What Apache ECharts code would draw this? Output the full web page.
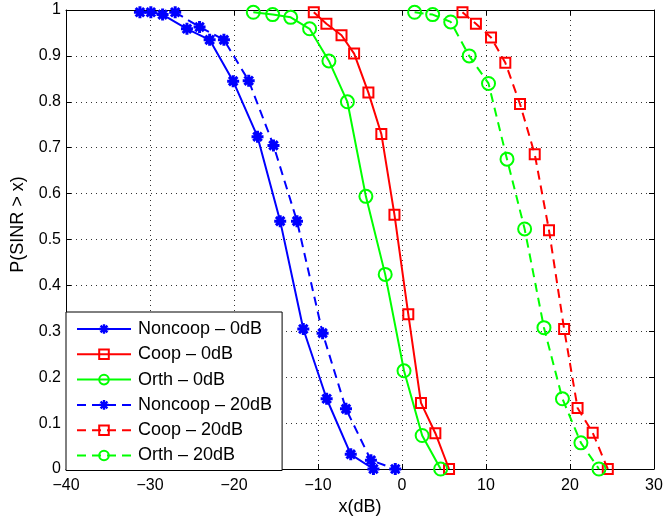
<!DOCTYPE html>
<html>
<head>
<meta charset="utf-8">
<script src="https://cdn.jsdelivr.net/npm/echarts@6/dist/echarts.min.js"></script>
<style>html,body{margin:0;padding:0;background:#fff;}#chart{width:666px;height:521px;}</style>
</head>
<body>
<div id="chart"></div>
<script>
// ---- data ----
var seriesNames = ['Noncoop \u2013 0dB', 'Coop \u2013 0dB', 'Orth \u2013 0dB', 'Noncoop \u2013 20dB', 'Coop \u2013 20dB', 'Orth \u2013 20dB'];

var noncoop0X = [-31.2, -29.9, -28.5, -25.6, -22.9, -20.1, -17.2, -14.5, -11.75, -8.97, -6.1, -3.4];
var noncoop0Y = [0.995, 0.995, 0.990, 0.959, 0.935, 0.845, 0.724, 0.540, 0.305, 0.153, 0.032, 0.0];

var coop0X = [-10.5, -9.0, -7.2, -5.7, -4.0, -2.46, -0.9, 0.75, 2.26, 3.97, 5.6];
var coop0Y = [0.995, 0.970, 0.945, 0.905, 0.820, 0.730, 0.554, 0.337, 0.144, 0.078, 0.0];

var orth0X = [-17.7, -15.4, -13.25, -11.0, -8.7, -6.5, -4.3, -2.0, 0.24, 2.4, 4.6];
var orth0Y = [0.995, 0.990, 0.984, 0.959, 0.889, 0.800, 0.594, 0.424, 0.214, 0.073, 0.0];

var noncoop20X = [-27.0, -24.1, -21.2, -18.25, -15.3, -12.5, -9.45, -6.67, -3.7, -0.8];
var noncoop20Y = [0.995, 0.963, 0.935, 0.846, 0.705, 0.540, 0.296, 0.131, 0.019, 0.0];

var coop20X = [7.2, 8.8, 10.6, 12.3, 14.05, 15.8, 17.5, 19.3, 20.9, 22.7, 24.5];
var coop20Y = [0.995, 0.970, 0.940, 0.885, 0.795, 0.686, 0.520, 0.305, 0.133, 0.079, 0.0];

var orth20X = [1.5, 3.65, 5.8, 8.0, 10.3, 12.5, 14.6, 16.9, 19.1, 21.3, 23.45];
var orth20Y = [0.995, 0.990, 0.974, 0.900, 0.840, 0.675, 0.523, 0.308, 0.153, 0.057, 0.0];

var xTicks = [-40, -30, -20, -10, 0, 10, 20, 30];
var yTicks = [0, 0.1, 0.2, 0.3, 0.4, 0.5, 0.6, 0.7, 0.8, 0.9, 1];

// ---- styling ----
var FONT = "'Liberation Sans', Arial, Helvetica, sans-serif";
var STAR = 'path://M20,12.5L20,7.5L0,7.5L0,12.5Z M7.5,20L12.5,20L12.5,0L7.5,0Z M15.303,18.839L18.839,15.303L4.697,1.161L1.161,4.697Z M1.161,15.303L4.697,18.839L18.839,4.697L15.303,1.161Z';

function pairs(xs, ys) { return xs.map(function (x, i) { return [x, ys[i]]; }); }

function mk(name, xs, ys, color, symbol, size, dashed, hollow) {
  return {
    name: name,
    type: 'line',
    data: pairs(xs, ys),
    clip: false,
    symbol: symbol,
    symbolSize: size,
    showAllSymbol: true,
    color: color,
    lineStyle: { color: color, width: 2, type: dashed ? [9, 6] : 'solid' },
    itemStyle: hollow ? { color: 'rgba(255,255,255,0)', borderColor: color, borderWidth: 2 } : { color: color, borderWidth: 0 },
    emphasis: { disabled: true },
    animation: false
  };
}

var chart = echarts.init(document.getElementById('chart'), null, { renderer: 'canvas' });
var tickX = Math.round(xTicks[1] - xTicks[0]);
var option = {
  backgroundColor: '#fff',
  animation: false,
  textStyle: { fontFamily: FONT },
  grid: { left: 66, right: 12, top: 10, bottom: 50, containLabel: false },
  legend: {
    orient: 'vertical',
    left: 66, top: 312,
    width: 210,
    padding: [8, 10, 6, 10],
    itemGap: 7.3,
    itemWidth: 54,
    itemHeight: 12,
    backgroundColor: '#fff',
    borderColor: '#000',
    borderWidth: 1,
    borderRadius: 0,
    data: seriesNames,
    textStyle: { fontFamily: FONT, fontSize: 18, color: '#000', padding: [0, 0, 0, 2] },
    selectedMode: false
  },
  xAxis: [{
    type: 'value', min: xTicks[0], max: xTicks[xTicks.length - 1], interval: tickX,
    name: 'x(dB)', nameLocation: 'middle', nameGap: 29, nameMoveOverlap: false,
    nameTextStyle: { fontFamily: FONT, fontSize: 18, color: '#000' },
    axisLine: { show: true, onZero: false, lineStyle: { color: '#000', width: 1 } },
    axisTick: { show: true, inside: true, length: 5, lineStyle: { color: '#000' } },
    axisLabel: { fontFamily: FONT, fontSize: 16, color: '#000', margin: 9,
      formatter: function (v) { return String(v).replace('-', '\u2212'); } },
    splitLine: { show: true, lineStyle: { color: '#333', width: 1, type: [1, 4] } }
  }, {
    type: 'value', position: 'top', min: xTicks[0], max: xTicks[xTicks.length - 1], interval: tickX,
    axisLine: { show: true, onZero: false, lineStyle: { color: '#000', width: 1 } },
    axisTick: { show: true, inside: true, length: 5, lineStyle: { color: '#000' } },
    axisLabel: { show: false }, splitLine: { show: false }
  }],
  yAxis: [{
    type: 'value', min: yTicks[0], max: yTicks[yTicks.length - 1], interval: 0.1,
    name: 'P(SINR > x)', nameLocation: 'middle', nameGap: 39, nameRotate: 90, nameMoveOverlap: false,
    nameTextStyle: { fontFamily: FONT, fontSize: 18, color: '#000', padding: [0, 0, 0, 30] },
    axisLine: { show: true, onZero: false, lineStyle: { color: '#000', width: 1 } },
    axisTick: { show: true, inside: true, length: 5, lineStyle: { color: '#000' } },
    axisLabel: { fontFamily: FONT, fontSize: 16, color: '#000', margin: 5,
      formatter: function (v) { return String(Math.round(v * 10) / 10); } },
    splitLine: { show: true, lineStyle: { color: '#333', width: 1, type: [1, 4] } }
  }, {
    type: 'value', position: 'right', min: yTicks[0], max: yTicks[yTicks.length - 1], interval: 0.1,
    axisLine: { show: true, onZero: false, lineStyle: { color: '#000', width: 1 } },
    axisTick: { show: true, inside: true, length: 5, lineStyle: { color: '#000' } },
    axisLabel: { show: false }, splitLine: { show: false }
  }],
  series: [
    mk(seriesNames[0], noncoop0X, noncoop0Y, '#0000ff', STAR, 12, false, false),
    mk(seriesNames[1], coop0X, coop0Y, '#ff0000', 'rect', 10, false, true),
    mk(seriesNames[2], orth0X, orth0Y, '#00ff00', 'circle', 13, false, true),
    mk(seriesNames[3], noncoop20X, noncoop20Y, '#0000ff', STAR, 12, true, false),
    mk(seriesNames[4], coop20X, coop20Y, '#ff0000', 'rect', 10, true, true),
    mk(seriesNames[5], orth20X, orth20Y, '#00ff00', 'circle', 13, true, true)
  ]
};
chart.setOption(option);
</script>
</body>
</html>
